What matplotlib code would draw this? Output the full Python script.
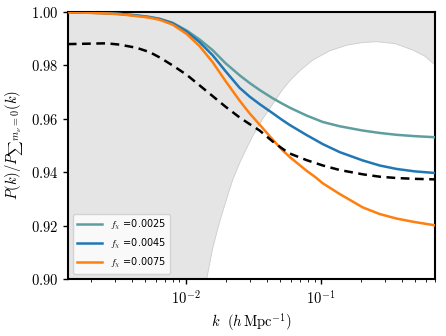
import matplotlib

matplotlib.use("Agg")
import matplotlib.pyplot as plt
from matplotlib.ticker import FuncFormatter

plt.rcParams["mathtext.fontset"] = "cm"

# k values (h/Mpc) shared by the curves
k = [0.00134, 0.00260, 0.00325, 0.00434, 0.00541, 0.00642, 0.00801, 0.01017,
     0.01270, 0.01585, 0.01977, 0.0251, 0.0298, 0.0353, 0.0441, 0.0514,
     0.0589, 0.0787, 0.0904, 0.1037, 0.1384, 0.2046, 0.2735, 0.3651, 0.4966,
     0.698]

ratio_0025 = [1.0, 0.9996, 0.9993, 0.9988, 0.9982, 0.9975, 0.9960, 0.9931,
              0.9897, 0.9857, 0.9808, 0.9763, 0.9734, 0.9708, 0.9677, 0.9658,
              0.9642, 0.9612, 0.9600, 0.9588, 0.9572, 0.9556, 0.9547, 0.9540,
              0.9535, 0.9531]
ratio_0045 = [1.0, 0.9996, 0.9993, 0.9987, 0.9981, 0.9974, 0.9958, 0.9927,
              0.9887, 0.9838, 0.9778, 0.9716, 0.9683, 0.9655, 0.9621, 0.9597,
              0.9577, 0.9539, 0.9522, 0.9505, 0.9475, 0.9444, 0.9425, 0.9412,
              0.9403, 0.9397]
ratio_0075 = [1.0, 0.9995, 0.9992, 0.9985, 0.9979, 0.9971, 0.9953, 0.9918,
              0.9872, 0.9812, 0.9741, 0.9668, 0.9620, 0.9578, 0.9522, 0.9485,
              0.9457, 0.9405, 0.9383, 0.9358, 0.9318, 0.9268, 0.9243, 0.9226,
              0.9213, 0.9201]
ratio_mnu = [0.9880, 0.9883, 0.9878, 0.9866, 0.9850, 0.9830, 0.9800, 0.9765,
             0.9725, 0.9685, 0.9645, 0.9605, 0.9580, 0.9556, 0.9515, 0.9490,
             0.9470, 0.9445, 0.9435, 0.9425, 0.9408, 0.9392, 0.9383, 0.9378,
             0.9375, 0.9373]

labels = [r"$f_\chi$ =0.0025", r"$f_\chi$ =0.0045", r"$f_\chi$ =0.0075"]
colors = ["#5f9ea0", "#1f77b4", "#ff7f0e"]

# lower edge of the shaded (excluded) region
k_bound = [0.0013, 0.0125, 0.01431, 0.01585, 0.01786, 0.02012, 0.02229,
           0.02512, 0.02831, 0.03135, 0.03719, 0.04411, 0.05142, 0.05893,
           0.06988, 0.08723, 0.1166, 0.1558, 0.2047, 0.2599, 0.3533, 0.4803,
           0.5893, 0.70]
bound = [0.50, 0.870, 0.900, 0.9115, 0.9215, 0.9300, 0.9371, 0.9435, 0.9490,
         0.9535, 0.9600, 0.9655, 0.9705, 0.9742, 0.9780, 0.9820, 0.9855,
         0.9876, 0.9886, 0.9889, 0.9882, 0.9858, 0.9835, 0.9803]

fig = plt.figure(figsize=(4.46, 3.36), dpi=100)
ax = fig.add_axes([0.152, 0.170, 0.823, 0.794])

ax.fill_between(k_bound, bound, 1.1, color="#e5e5e5", lw=0, zorder=0)
ax.plot(k_bound, bound, color="#cccccc", lw=0.6, zorder=1)

for y, lab, c in zip([ratio_0025, ratio_0045, ratio_0075], labels, colors):
    ax.plot(k, y, color=c, lw=1.8, label=lab, zorder=3)
ax.plot(k, ratio_mnu, color="black", lw=1.8, ls=(0, (3.5, 2.2)), zorder=4)

ax.set_xscale("log")
ax.set_xlim(1.34e-3, 0.70)
ax.set_ylim(0.90, 1.00)
ax.set_yticks([0.90, 0.92, 0.94, 0.96, 0.98, 1.00])
ax.yaxis.set_major_formatter(FuncFormatter(lambda v, p: r"$%.2f$" % v))
ax.set_xticks([1e-2, 1e-1])
ax.set_xticklabels([r"$10^{-2}$", r"$10^{-1}$"])
ax.tick_params(labelsize=10.5, width=1.0)
for s in ax.spines.values():
    s.set_linewidth(1.5)

ax.set_xlabel(r"$k\ \ (h\,\mathrm{Mpc}^{-1})$", fontsize=10.5, labelpad=3)
ax.set_ylabel(r"$P(k)/P_{\sum m_\nu=0}(k)$", fontsize=10.5, labelpad=4)

ax.legend(loc="lower left", fontsize=7, handlelength=2.6, borderaxespad=0.5)

fig.savefig("out.png", dpi=100)
